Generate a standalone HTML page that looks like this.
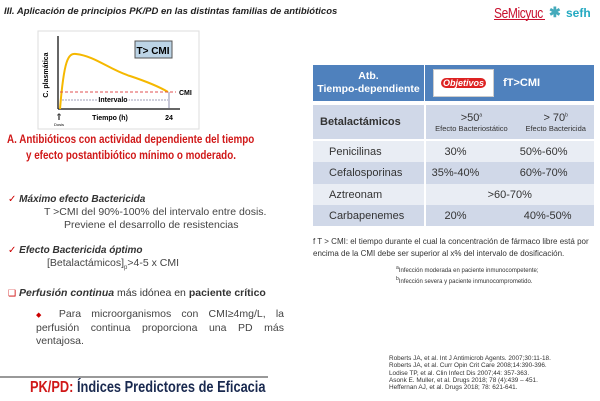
<!DOCTYPE html><html><head><meta charset="utf-8"><style>
body{margin:0;width:600px;height:401px;background:#fff;position:relative;overflow:hidden;font-family:"Liberation Sans",sans-serif}
.a{position:absolute;white-space:nowrap}
td{padding:0;font-family:"Liberation Sans",sans-serif}
.n{transform-origin:0 0;display:inline-block}
</style></head><body>
<div class="a" style="left:4px;top:6px;font-size:9.5px;font-weight:bold;font-style:italic;color:#222">III. Aplicación de principios PK/PD en las distintas familias de antibióticos</div>
<div class="a" style="left:494px;top:5px;font-size:15px;color:#c8102e;letter-spacing:-0.5px"><span class="n" style="transform:scaleX(0.8)">SeMicyuc</span></div>
<div class="a" style="left:494px;top:19px;width:51px;height:1px;background:#c8102e"></div>
<div class="a" style="left:549px;top:4px;font-size:14px;color:#4ab;font-weight:bold">✱</div>
<div class="a" style="left:566px;top:6px;font-size:12px;color:#23a9c1;font-weight:bold">sefh</div>

<svg class="a" style="left:0;top:0" width="310" height="140">
<rect x="38" y="31" width="161" height="98" fill="#fff" stroke="#ddd"/>
<line x1="58" y1="36" x2="58" y2="109" stroke="#333" stroke-width="1.5"/>
<line x1="58" y1="109" x2="180" y2="109" stroke="#333" stroke-width="1.5"/>
<rect x="135" y="41" width="37" height="17" fill="#bcd4e6" stroke="#555"/>
<text x="153" y="54" font-size="10" font-weight="bold" text-anchor="middle" font-family="Liberation Sans">T&gt; CMI</text>
<path d="M60 109 C64 60,68 53,76 54 C95 56,110 70,130 76 C145 81,158 86,168 92" fill="none" stroke="#f5b800" stroke-width="2"/>
<line x1="60" y1="92" x2="176" y2="92" stroke="#e05050" stroke-dasharray="3,2"/>
<text x="179" y="95" font-size="7" font-weight="bold" font-family="Liberation Sans">CMI</text>
<line x1="62" y1="100" x2="168" y2="100" stroke="#447" stroke-width="0.6" stroke-dasharray="2,1"/>
<text x="113" y="102" font-size="7" font-weight="bold" text-anchor="middle" font-family="Liberation Sans" style="paint-order:stroke" stroke="#fff" stroke-width="3">Intervalo</text>
<line x1="169" y1="92" x2="169" y2="108" stroke="#447" stroke-width="0.6"/>
<text x="48" y="75" font-size="7" font-weight="bold" font-family="Liberation Sans" transform="rotate(-90 48 75)" text-anchor="middle">C. plasmática</text>
<text x="110" y="120" font-size="7" font-weight="bold" text-anchor="middle" font-family="Liberation Sans">Tiempo (h)</text>
<text x="169" y="120" font-size="7" font-weight="bold" text-anchor="middle" font-family="Liberation Sans">24</text>
<text x="59" y="120" font-size="9" text-anchor="middle">⇑</text>
<text x="59" y="126" font-size="4" text-anchor="middle">Dosis</text>
</svg>
<div class="a" style="left:7px;top:132px;font-size:12px;font-weight:bold;color:#d01818"><span class="n" style="transform:scaleX(0.82)">A. Antibióticos con actividad dependiente del tiempo</span></div>
<div class="a" style="left:26px;top:148px;font-size:12px;font-weight:bold;color:#d01818"><span class="n" style="transform:scaleX(0.82)">y efecto postantibiótico mínimo o moderado.</span></div>

<div class="a" style="left:8px;top:194px;font-size:10px;color:#333"><span style="color:#c00">✓</span> <b><i>Máximo efecto Bactericida</i></b></div>
<div class="a" style="left:44px;top:206px;font-size:10.5px;color:#444">T &gt;CMI del 90%-100% del intervalo entre dosis.</div>
<div class="a" style="left:64px;top:219px;font-size:10.5px;color:#444">Previene el desarrollo de resistencias</div>
<div class="a" style="left:8px;top:245px;font-size:10px;color:#333"><span style="color:#c00">✓</span> <b><i>Efecto Bactericida óptimo</i></b></div>
<div class="a" style="left:47px;top:257px;font-size:10.5px;color:#444">[Betalactámicos]<sub style="font-size:6px">p</sub>&gt;4-5 x CMI</div>
<div class="a" style="left:8px;top:287px;font-size:10.5px;color:#333"><span style="color:#c00;font-size:9px">❑</span> <b><i>Perfusión continua</i></b> más idónea en <b>paciente crítico</b></div>
<div class="a" style="left:36px;top:308px;width:248px;white-space:normal;font-size:10.5px;line-height:13px;color:#444;text-align:justify;text-align-last:left"><span style="color:#c00;font-size:7px">◆</span> Para microorganismos con CMI≥4mg/L, la perfusión continua proporciona una PD más ventajosa.</div>

<div class="a" style="left:0;top:376px;width:268px;height:2px;background:#999"></div>
<div class="a" style="left:30px;top:379px;font-size:16px;font-weight:bold;color:#1a2a50"><span class="n" style="transform:scaleX(0.8)"><span style="color:#d01818">PK/PD:</span> Índices Predictores de Eficacia</span></div>

<table class="a" style="left:313px;top:65px;width:281px;border-collapse:collapse;font-size:11px;color:#333">
<tr style="height:36px;background:#4f81bd;color:#fff"><td style="width:111px;text-align:center;border-right:1px solid #fff;font-weight:bold;font-size:10.5px;line-height:13px">Atb.<br>Tiempo-dependiente</td><td><span style="display:inline-block;vertical-align:middle;margin-left:8px;width:59px;height:26px;background:#fff;border:1px solid #ccc;text-align:center;line-height:26px;font-size:9px;font-weight:bold;font-style:italic;color:#b00"><span style="color:#fff;background:#d22;border-radius:9px;padding:0 2px">Objetivos</span></span> <b style="margin-left:6px;font-size:11px">fT&gt;CMI</b></td></tr>
<tr style="height:4px"><td></td><td></td></tr>
<tr style="height:35px;background:#d0d8e8"><td style="border-right:2px solid #fff;font-weight:bold;font-size:11px;padding-left:7px">Betalactámicos</td><td><table style="width:100%;border-collapse:collapse;font-size:9px;text-align:center;color:#333"><tr><td style="font-size:11px">&gt;50<sup style="font-size:5px">a</sup></td><td style="font-size:11px">&gt; 70<sup style="font-size:5px">b</sup></td></tr><tr><td style="font-size:7.5px">Efecto Bacteriostático</td><td style="font-size:7.5px">Efecto Bactericida</td></tr></table></td></tr>
<tr style="height:22px;background:#e9edf4;border-top:2px solid #fff"><td style="border-right:2px solid #fff;padding-left:16px">Penicilinas</td><td><span style="display:inline-block;width:56px;text-align:center;margin-left:2px">30%</span><span style="display:inline-block;width:84px;text-align:right">50%-60%</span></td></tr>
<tr style="height:22px;background:#d0d8e8"><td style="border-right:2px solid #fff;padding-left:16px">Cefalosporinas</td><td><span style="display:inline-block;width:56px;text-align:center;margin-left:2px">35%-40%</span><span style="display:inline-block;width:84px;text-align:right">60%-70%</span></td></tr>
<tr style="height:21px;background:#e9edf4"><td style="border-right:2px solid #fff;padding-left:16px">Aztreonam</td><td style="text-align:center">&gt;60-70%</td></tr>
<tr style="height:21px;background:#d0d8e8"><td style="border-right:2px solid #fff;padding-left:16px">Carbapenemes</td><td><span style="display:inline-block;width:56px;text-align:center;margin-left:2px">20%</span><span style="display:inline-block;width:88px;text-align:right">40%-50%</span></td></tr>
</table>
<div class="a" style="left:313px;top:236px;font-size:8px;line-height:12px;color:#333">f T &gt; CMI: el tiempo durante el cual la concentración de fármaco libre está por<br>encima de la CMI debe ser superior al x% del intervalo de dosificación.</div>
<div class="a" style="left:396px;top:264px;font-size:6px;line-height:8px;color:#333"><sup>a</sup>Infección moderada en paciente inmunocompetente;<br><sup>b</sup>Infección severa y paciente inmunocomprometido.</div>
<div class="a" style="left:389px;top:355px;font-size:6.4px;line-height:7.3px;color:#333">Roberts JA, et al. Int J Antimicrob Agents. 2007;30:11-18.<br>Roberts JA, et al. Curr Opin Crit Care 2008;14:390-396.<br>Lodise TP, et al. Clin Infect Dis 2007;44: 357-363.<br>Asonk E. Muller, et al. Drugs 2018; 78 (4):439 – 451.<br>Heffernan AJ, et al. Drugs 2018; 78: 621-641.</div>
</body></html>
